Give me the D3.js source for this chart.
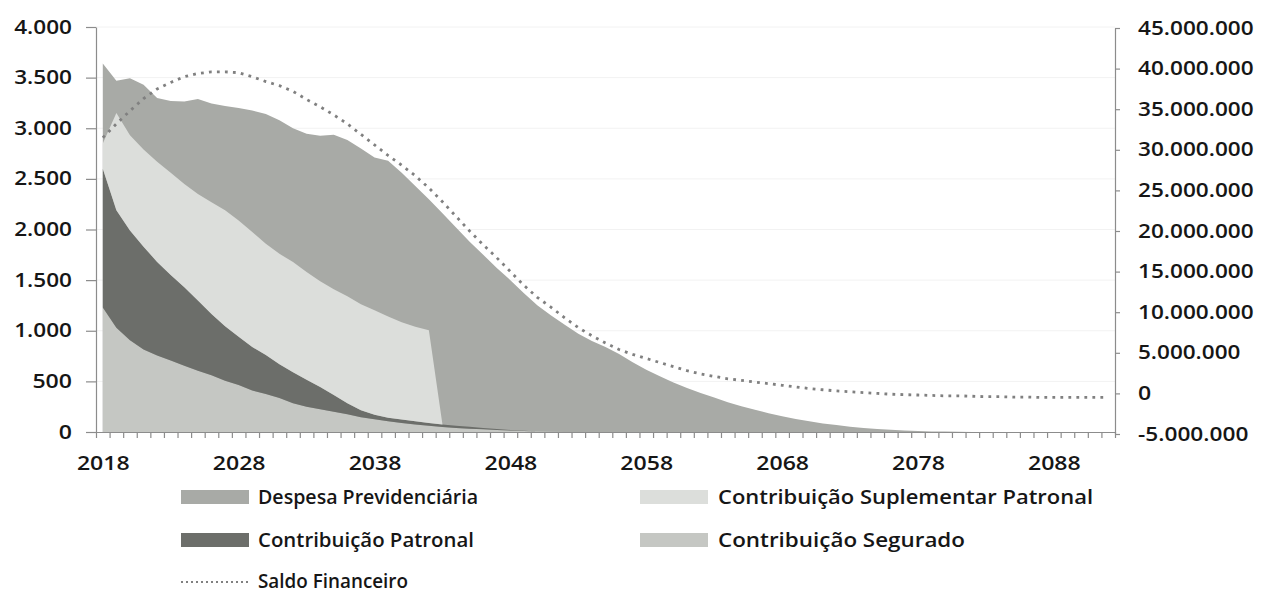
<!DOCTYPE html>
<html><head><meta charset="utf-8">
<script src="https://cdn.jsdelivr.net/npm/d3@7"></script>
<style>
html,body{margin:0;padding:0;background:#fff;}
svg{display:block;font-family:"Open Sans",sans-serif;}
</style></head><body>
<svg id="chart" width="1261" height="593"></svg>
<script>
// ---------------- DATA ----------------
const years = d3.range(2018, 2093); // 2018..2092
const despesa = [3640,3470,3495,3430,3300,3270,3265,3290,3245,3220,
  3200,3175,3140,3080,3000,2945,2925,2935,2885,2800,
  2710,2680,2560,2430,2300,2160,2020,1880,1750,1620,
  1500,1370,1250,1150,1060,970,900,840,770,690,
  615,550,490,435,385,340,295,255,220,185,
  155,128,105,85,68,53,40,30,22,15,
  10,6,4,2,1,0,0,0,0,0,
  0,0,0,0,0];
const contribSegurado = [1230,1030,905,815,755,705,655,605,560,505,
  465,410,375,335,285,250,225,200,175,146,
  125,105,90,75,62,50,40,33,26,20,
  14,9,5,2,0,0,0,0,0,0,
  0,0,0,0,0,0,0,0,0,0,
  0,0,0,0,0,0,0,0,0,0,
  0,0,0,0,0,0,0,0,0,0,
  0,0,0,0,0];
const contribPatronal = [1370,1160,1085,1015,925,845,775,695,605,540,
  475,430,385,335,305,265,220,165,110,70,
  45,36,33,30,28,25,22,18,14,10,
  6,3,0,0,0,0,0,0,0,0,
  0,0,0,0,0,0,0,0,0,0,
  0,0,0,0,0,0,0,0,0,0,
  0,0,0,0,0,0,0,0,0,0,
  0,0,0,0,0];
const contribSuplementar = [250,960,940,960,990,1010,1020,1050,1105,1145,
  1150,1135,1100,1090,1090,1065,1045,1045,1055,1045,
  1032,1000,960,935,915,0,0,0,0,0,
  0,0,0,0,0,0,0,0,0,0,
  0,0,0,0,0,0,0,0,0,0,
  0,0,0,0,0,0,0,0,0,0,
  0,0,0,0,0,0,0,0,0,0,
  0,0,0,0,0];
const saldoFinanceiro = [31500000,33200000,34800000,36300000,37500000,38300000,39000000,39400000,39600000,39600000,
  39500000,39000000,38400000,37900000,37200000,36200000,35300000,34300000,33200000,31900000,
  30600000,29300000,28100000,26800000,25300000,23600000,21800000,20000000,18300000,16700000,
  15000000,13300000,11800000,10600000,9300000,8100000,7100000,6200000,5400000,4800000,
  4300000,3800000,3300000,2800000,2400000,2100000,1800000,1600000,1400000,1200000,
  1000000,800000,600000,450000,300000,200000,100000,0,-100000,-150000,
  -200000,-250000,-300000,-300000,-350000,-400000,-400000,-450000,-450000,-500000,
  -500000,-500000,-500000,-500000,-500000];
const leftTicks = [0,500,1000,1500,2000,2500,3000,3500,4000];
const rightTicks = [-5000000,0,5000000,10000000,15000000,20000000,25000000,30000000,35000000,40000000,45000000];
const xLabelYears = [2018,2028,2038,2048,2058,2068,2078,2088];
const seriesNames = ["Despesa Previdenciária","Contribuição Suplementar Patronal","Contribuição Patronal","Contribuição Segurado","Saldo Financeiro"];

// ---------------- STYLE / LAYOUT ----------------
const COL = {despesa:"#a8aaa6", suplementar:"#dcdedb", patronal:"#6c6e6a", segurado:"#c5c7c3", saldo:"#808080", axis:"#8c8c8c", text:"#161616", grid:"#f2f2f2"};
const L = {left:96, right:1115, top:27, bottom:432};
const FONT = {size:19, weight:600};

const svg = d3.select("#chart");
svg.append("rect").attr("width",1261).attr("height",593).attr("fill","#fff");

const x = d3.scaleLinear().domain([2017.5, 2092.5]).range([L.left, L.right]);
const yL = d3.scaleLinear().domain([0, 4000]).range([L.bottom, L.top]);
const yR = d3.scaleLinear().domain([-5000000, 45000000]).range([434, 28]);

const loc = d3.formatLocale({decimal:",", thousands:".", grouping:[3], currency:["R$",""], minus:"-"});
const fmt = loc.format(",d");
const tw = s => [...s].reduce((a,c)=> a + (c==="." ? 5 : (c==="-" ? 8 : 13.2)), 0);

// gridlines
svg.append("g").selectAll("line").data(leftTicks.filter(d=>d>0)).join("line")
  .attr("x1",L.left).attr("x2",L.right)
  .attr("y1",d=>yL(d)).attr("y2",d=>yL(d))
  .attr("stroke",COL.grid).attr("stroke-width",1);

// despesa area (behind)
const areaD = d3.area().x((d,i)=>x(years[i])).y0(yL(0)).y1(d=>yL(d));
svg.append("path").datum(despesa).attr("d",areaD).attr("fill",COL.despesa);

// stacked contributions
const rows = years.map((yr,i)=>({year:yr, seg:contribSegurado[i], pat:contribPatronal[i], sup:contribSuplementar[i]}));
const layers = d3.stack().keys(["seg","pat","sup"])(rows);
const areaS = d3.area().x(d=>x(d.data.year)).y0(d=>yL(d[0])).y1(d=>yL(d[1]));
const layerCol = {seg:COL.segurado, pat:COL.patronal, sup:COL.suplementar};
svg.append("g").selectAll("path").data(layers).join("path")
  .attr("d",areaS).attr("fill",d=>layerCol[d.key]);

// saldo line
const lineS = d3.line().x((d,i)=>x(years[i])).y(d=>yR(d));
svg.append("path").datum(saldoFinanceiro).attr("d",lineS)
  .attr("fill","none").attr("stroke",COL.saldo).attr("stroke-width",2.8)
  .attr("stroke-dasharray","2.8 5.2");

function styleAxis(g){
  g.selectAll(".domain").attr("stroke",COL.axis).attr("stroke-width",1.2);
  g.selectAll(".tick line").attr("stroke",COL.axis).attr("stroke-width",1.2);
  g.selectAll("text").attr("font-family","'Open Sans',sans-serif").attr("font-size",FONT.size)
   .attr("font-weight",FONT.weight).attr("fill",COL.text)
   .attr("textLength",function(){return tw(this.textContent);}).attr("lengthAdjust","spacingAndGlyphs");
}

// x axis minor ticks
const gX = svg.append("g").attr("transform",`translate(0,${L.bottom})`)
  .call(d3.axisBottom(x).tickValues(d3.range(2017.5, 2093, 1)).tickFormat("").tickSize(6).tickSizeOuter(0));
styleAxis(gX);
const gXL = svg.append("g").attr("transform",`translate(0,${L.bottom})`)
  .call(d3.axisBottom(x).tickValues(xLabelYears).tickFormat(d3.format("d")).tickSize(0).tickPadding(25));
gXL.select(".domain").remove();
styleAxis(gXL);

// left axis
const gL = svg.append("g").attr("transform",`translate(${L.left},0)`)
  .call(d3.axisLeft(yL).tickValues(leftTicks).tickFormat(fmt).tickSize(10).tickPadding(14).tickSizeOuter(0));
styleAxis(gL);

// right axis
const gR = svg.append("g").attr("transform",`translate(${L.right},0)`)
  .call(d3.axisRight(yR).tickValues(rightTicks).tickFormat(fmt).tickSize(5).tickPadding(18).tickSizeOuter(0));
styleAxis(gR);

// legend
const legendLayout = [
  {name:seriesNames[0], fill:COL.despesa, sx:181, tx:258, y:497, w:220},
  {name:seriesNames[1], fill:COL.suplementar, sx:640, tx:718, y:497, w:375},
  {name:seriesNames[2], fill:COL.patronal, sx:181, tx:258, y:540, w:216},
  {name:seriesNames[3], fill:COL.segurado, sx:640, tx:718, y:540, w:247},
  {name:seriesNames[4], line:true, sx:181, tx:258, y:581, w:150}
];
const lg = svg.append("g");
legendLayout.forEach(it=>{
  if(it.line){
    lg.append("line").attr("x1",it.sx).attr("x2",it.sx+68).attr("y1",it.y+1).attr("y2",it.y+1)
      .attr("stroke",COL.saldo).attr("stroke-width",2).attr("stroke-dasharray","2 3");
  } else {
    lg.append("rect").attr("x",it.sx).attr("y",it.y-7).attr("width",68).attr("height",14).attr("fill",it.fill);
  }
  lg.append("text").attr("x",it.tx).attr("y",it.y).attr("dy","0.36em")
    .attr("font-size",FONT.size).attr("font-weight",FONT.weight).attr("fill",COL.text)
    .attr("textLength",it.w).attr("lengthAdjust","spacingAndGlyphs")
    .text(it.name);
});
</script>
</body></html>
